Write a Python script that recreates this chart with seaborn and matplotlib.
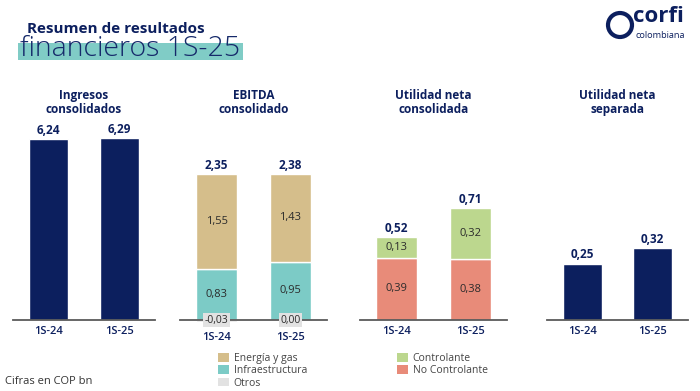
import matplotlib
matplotlib.use("Agg")
import matplotlib.pyplot as plt
import seaborn as sns
from matplotlib.patches import Patch, Rectangle, Circle

# ---------------- data ----------------
periods = ["1S-24", "1S-25"]
ingresos = [6.24, 6.29]
ebitda_total = [2.35, 2.38]
ebitda_energia = [1.55, 1.43]
ebitda_infra = [0.83, 0.95]
ebitda_otros = [-0.03, 0.00]
util_cons_total = [0.52, 0.71]
util_controlante = [0.13, 0.32]
util_no_controlante = [0.39, 0.38]
util_separada = [0.25, 0.32]
panel_titles = ["Ingresos\nconsolidados", "EBITDA\nconsolidado",
                "Utilidad neta\nconsolidada", "Utilidad neta\nseparada"]
legend_left = ["Energía y gas", "Infraestructura", "Otros"]
legend_right = ["Controlante", "No Controlante"]

# ---------------- style ----------------
sns.set_theme(style="white")
plt.rcParams["font.family"] = ["Open Sans", "DejaVu Sans"]

NAVY = "#0C1F5E"
TAN = "#D5BE8B"
TEAL = "#7CCBC6"
GRAY = "#E2E2E2"
GREEN = "#BCD78E"
SALMON = "#E88B79"
TXT = "#2B2B2B"

W, H = 700, 391
fig = plt.figure(figsize=(7, 3.91), dpi=100)
fig.patch.set_facecolor("white")


def fmt(v):
    return f"{v:.2f}".replace(".", ",")


def px_axes(left, right, top, bottom):
    return fig.add_axes([left / W, 1 - bottom / H, (right - left) / W, (bottom - top) / H])


BASE = 320
TOP = 120
axes_spec = [(13, 155, 6.90, 4), (180, 327, 3.26, 8.5), (360, 507, 1.25, 4), (547, 688, 0.885, 4)]
axes = []
for (l, r, ymax, pad) in axes_spec:
    ax = px_axes(l, r, TOP, BASE)
    axes.append(ax)

# Panel 1: Ingresos
ax = axes[0]
sns.barplot(x=periods, y=ingresos, color=NAVY, saturation=1, width=0.55, errorbar=None, ax=ax)
ax.bar_label(ax.containers[0], labels=[fmt(v) for v in ingresos], padding=1.5,
             fontsize=8.5, fontweight="bold", color=NAVY)

# Panel 2: EBITDA stacked
ax = axes[1]
sns.barplot(x=periods, y=ebitda_infra, color=TEAL, saturation=1, width=0.56, errorbar=None, ax=ax)
sns.barplot(x=periods, y=ebitda_energia, bottom=ebitda_infra, color=TAN, saturation=1,
            width=0.56, errorbar=None, ax=ax)
sns.barplot(x=periods, y=ebitda_otros, color=GRAY, saturation=1, width=0.56, errorbar=None, ax=ax)
ax.bar_label(ax.containers[0], labels=[fmt(v) for v in ebitda_infra], label_type="center",
             fontsize=8, color=TXT)
ax.bar_label(ax.containers[1], labels=[fmt(v) for v in ebitda_energia], label_type="center",
             fontsize=8, color=TXT)
ax.bar_label(ax.containers[1], labels=[fmt(v) for v in ebitda_total], padding=1.5,
             fontsize=8.5, fontweight="bold", color=NAVY)
for i, v in enumerate(ebitda_otros):
    ax.annotate(fmt(v), xy=(i, 0), ha="center", va="center", fontsize=7.5, color=TXT,
                annotation_clip=False, zorder=5,
                bbox=dict(boxstyle="square,pad=0.15", fc=GRAY, ec="none"))

# Panel 3: Utilidad neta consolidada stacked
ax = axes[2]
sns.barplot(x=periods, y=util_no_controlante, color=SALMON, saturation=1, width=0.56,
            errorbar=None, ax=ax)
sns.barplot(x=periods, y=util_controlante, bottom=util_no_controlante, color=GREEN,
            saturation=1, width=0.56, errorbar=None, ax=ax)
ax.bar_label(ax.containers[0], labels=[fmt(v) for v in util_no_controlante], label_type="center",
             fontsize=8, color=TXT)
ax.bar_label(ax.containers[1], labels=[fmt(v) for v in util_controlante], label_type="center",
             fontsize=8, color=TXT)
ax.bar_label(ax.containers[1], labels=[fmt(v) for v in util_cons_total], padding=1.5,
             fontsize=8.5, fontweight="bold", color=NAVY)

# Panel 4: Utilidad neta separada
ax = axes[3]
sns.barplot(x=periods, y=util_separada, color=NAVY, saturation=1, width=0.55, errorbar=None, ax=ax)
ax.bar_label(ax.containers[0], labels=[fmt(v) for v in util_separada], padding=1.5,
             fontsize=8.5, fontweight="bold", color=NAVY)

for ax, (l, r, ymax, pad), title in zip(axes, axes_spec, panel_titles):
    ax.set_xlim(-0.5, 1.5)
    ax.set_ylim(0, ymax)
    ax.set_yticks([])
    ax.set_xlabel("")
    ax.set_ylabel("")
    ax.set_facecolor("none")
    for s in ["top", "left", "right"]:
        ax.spines[s].set_visible(False)
    ax.spines["bottom"].set_color("#5A5A5A")
    ax.spines["bottom"].set_linewidth(1.3)
    ax.spines["bottom"].set_zorder(3)
    ax.tick_params(axis="x", length=0, pad=pad, labelsize=8, labelcolor=NAVY)
    for lab in ax.get_xticklabels():
        lab.set_fontweight("semibold")
    for p in ax.patches:
        p.set_clip_on(False)
    cx = (l + r) / 2
    fig.text(cx / W, 1 - 102.5 / H, title, ha="center", va="center", fontsize=8.5,
             fontweight="bold", color=NAVY, linespacing=1.15)

# ---------------- header ----------------
fig.text(27 / W, 1 - 29 / H, "Resumen de resultados", ha="left", va="center",
         fontsize=11, fontweight="bold", color=NAVY)
fig.patches.append(Rectangle((18 / W, 1 - 60 / H), 225 / W, 17 / H, transform=fig.transFigure,
                             facecolor="#80CCC6", edgecolor="none", zorder=0))
fig.text(20 / W, 1 - 49 / H, "financieros 1S-25", ha="left", va="center",
         fontsize=20.5, fontweight="light", color="#15296A", zorder=2)

# logo
fig.patches.append(Circle((6.20, (H - 25) / 100), 0.12, transform=fig.dpi_scale_trans,
                          facecolor="none", edgecolor=NAVY, linewidth=3))
fig.text(633 / W, 1 - 17 / H, "corfi", ha="left", va="center", fontsize=16,
         fontweight="bold", color=NAVY)
fig.text(635 / W, 1 - 36 / H, "colombiana", ha="left", va="center", fontsize=6.6,
         color=NAVY)

# ---------------- legends ----------------
h_left = [Patch(facecolor=c, edgecolor="none", label=t)
          for c, t in zip([TAN, TEAL, GRAY], legend_left)]
h_right = [Patch(facecolor=c, edgecolor="none", label=t)
           for c, t in zip([GREEN, SALMON], legend_right)]
leg_kw = dict(loc="upper left", frameon=False, fontsize=7.5, handlelength=1.1,
              handleheight=0.9, labelspacing=0.12, handletextpad=0.4, borderaxespad=0,
              borderpad=0, labelcolor="#444444")
fig.legend(handles=h_left, bbox_to_anchor=(218 / W, 1 - 353 / H), **leg_kw)
fig.legend(handles=h_right, bbox_to_anchor=(397 / W, 1 - 353 / H), **leg_kw)

fig.text(5 / W, 1 - 381 / H, "Cifras en COP bn", ha="left", va="center", fontsize=8,
         color="#333333")

fig.savefig("out.png", dpi=100, facecolor="white")
